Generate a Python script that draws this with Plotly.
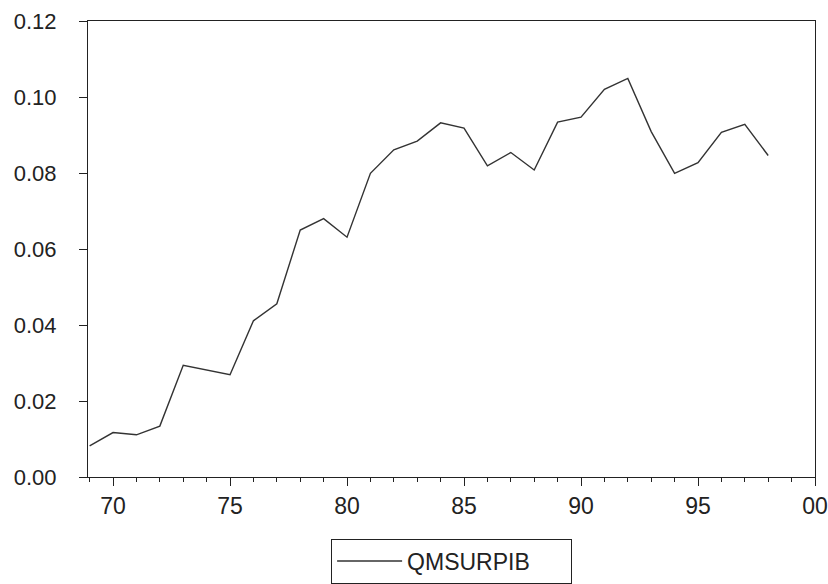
import plotly.graph_objects as go

years = list(range(69, 99))
qmsurpib = [0.0082, 0.0117, 0.0111, 0.0134, 0.0294, 0.0281, 0.0269, 0.0411, 0.0456,
            0.0650, 0.0680, 0.0631, 0.0799, 0.0861, 0.0884, 0.0932, 0.0918, 0.0819,
            0.0854, 0.0808, 0.0934, 0.0947, 0.1020, 0.1049, 0.0909, 0.0799, 0.0827,
            0.0907, 0.0928, 0.0846]

x_tickvals = [70, 75, 80, 85, 90, 95, 100]
x_ticktext = ["70", "75", "80", "85", "90", "95", "00"]
y_tickvals = [0.00, 0.02, 0.04, 0.06, 0.08, 0.10, 0.12]
y_ticktext = ["0.00", "0.02", "0.04", "0.06", "0.08", "0.10", "0.12"]

fig = go.Figure()
fig.add_trace(go.Scatter(
    x=years, y=qmsurpib, mode="lines", name="QMSURPIB",
    line=dict(color="#333333", width=1.4),
))

fig.update_layout(
    width=828, height=584,
    margin=dict(l=88, r=13, t=21, b=107, autoexpand=False),
    paper_bgcolor="white", plot_bgcolor="white",
    font=dict(family="Liberation Sans, Arial, sans-serif", color="#222222"),
    showlegend=True,
    legend=dict(
        orientation="h", x=0.3344, xanchor="left", y=-0.135, yanchor="top",
        bordercolor="#222222", borderwidth=1, bgcolor="white",
        font=dict(size=23, family="Liberation Sans, Arial, sans-serif", color="#222222"),
        itemwidth=65, entrywidth=159,
    ),
)

fig.update_xaxes(
    range=[68.93, 100], tickvals=x_tickvals, ticktext=x_ticktext,
    showgrid=False, zeroline=False, automargin=False,
    showline=True, linecolor="#222222", linewidth=1, mirror=True,
    ticks="outside", ticklen=8, tickcolor="#222222", tickwidth=1,
    tickfont=dict(size=23, family="Liberation Sans, Arial, sans-serif", color="#222222"),
    minor=dict(dtick=1, tick0=0, ticks="outside", ticklen=4, tickcolor="#222222", tickwidth=1),
)
fig.update_yaxes(
    range=[0, 0.12], tickvals=y_tickvals, ticktext=y_ticktext,
    showgrid=False, zeroline=False, automargin=False,
    showline=True, linecolor="#222222", linewidth=1, mirror=True,
    ticks="outside", ticklen=8, tickcolor="#222222", tickwidth=1,
    ticklabelstandoff=18,
    tickfont=dict(size=22, family="Liberation Sans, Arial, sans-serif", color="#222222"),
)

fig.write_html("out.html")
